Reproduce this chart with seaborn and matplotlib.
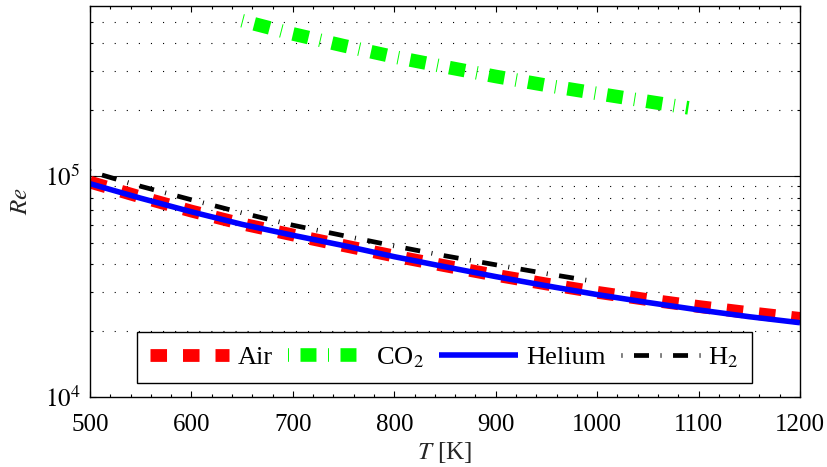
import math
import matplotlib
matplotlib.use("Agg")
import matplotlib.pyplot as plt
import seaborn as sns
from matplotlib.ticker import FixedLocator, FuncFormatter, NullFormatter, MultipleLocator

# ---- data ----
T_air = [500, 550, 600, 650, 700, 750, 800, 850, 900, 950, 1000, 1050, 1100, 1150, 1200]
re_air = [9.40e4, 8.05e4, 6.95e4, 6.08e4, 5.42e4, 4.85e4, 4.35e4, 3.93e4, 3.56e4,
          3.25e4, 2.98e4, 2.76e4, 2.57e4, 2.41e4, 2.27e4]

T_co2 = [650, 700, 750, 800, 850, 900, 950, 1000, 1050, 1090]
re_co2 = [5.06e5, 4.41e5, 3.90e5, 3.47e5, 3.13e5, 2.83e5, 2.58e5, 2.37e5, 2.18e5, 2.04e5]

T_helium = [500, 550, 600, 650, 700, 750, 800, 850, 900, 950, 1000, 1050, 1100, 1150, 1200]
re_helium = [9.25e4, 7.95e4, 6.90e4, 6.05e4, 5.40e4, 4.85e4, 4.32e4, 3.89e4, 3.51e4,
             3.19e4, 2.91e4, 2.68e4, 2.48e4, 2.31e4, 2.17e4]

T_h2 = [500, 550, 600, 650, 700, 750, 800, 850, 900, 950, 1000]
re_h2 = [1.05e5, 9.00e4, 7.82e4, 6.82e4, 6.00e4, 5.38e4, 4.83e4, 4.36e4, 3.97e4, 3.62e4, 3.32e4]

labels = ["Air", "CO$_2$", "Helium", "H$_2$"]
x_ticks = [500, 600, 700, 800, 900, 1000, 1100, 1200]
y_major = [1e4, 1e5]

sns.set_theme(style="ticks")
plt.rcParams.update({
    "font.family": ["Liberation Serif", "DejaVu Serif"],
    "mathtext.fontset": "stix",
    "font.size": 18,
    "lines.scale_dashes": False,
    "axes.edgecolor": "black",
    "axes.linewidth": 1.0,
    "xtick.color": "black",
    "ytick.color": "black",
    "text.color": "black",
})

fig = plt.figure(figsize=(8.27, 4.67), dpi=100)
ax = fig.add_axes([90 / 827, 1 - 397 / 467, 710 / 827, 391 / 467])

sns.lineplot(x=T_air, y=re_air, ax=ax, color="#ff0000", lw=9.2,
             linestyle=(0, (11.9, 11.5)), label=labels[0], sort=False, estimator=None)
sns.lineplot(x=T_co2, y=re_co2, ax=ax, color="#00ff00", lw=9.8,
             linestyle=(0, (0.7, 8.3, 11.5, 8.3)), label=labels[1], sort=False, estimator=None)
sns.lineplot(x=T_helium, y=re_helium, ax=ax, color="#0000ff", lw=4.0,
             solid_capstyle="butt", label=labels[2], sort=False, estimator=None)
sns.lineplot(x=T_h2, y=re_h2, ax=ax, color="black", lw=3.4,
             linestyle=(0, (0.7, 8.3, 10.8, 8.3)), label=labels[3], sort=False, estimator=None)

ax.set_yscale("log")
ax.set_xlim(500, 1200)
ax.set_ylim(1e4, 5.9e5)

ax.xaxis.set_major_locator(FixedLocator(x_ticks))
ax.xaxis.set_minor_locator(MultipleLocator(20))
ax.yaxis.set_major_locator(FixedLocator(y_major))
ax.yaxis.set_major_formatter(FuncFormatter(lambda v, p: r"$10^{%d}$" % round(math.log10(v))))
minor_y = [m * 10 ** e for e in (4, 5) for m in range(2, 10) if m * 10 ** e < 5.9e5]
ax.yaxis.set_minor_locator(FixedLocator(minor_y))
ax.yaxis.set_minor_formatter(NullFormatter())

ax.tick_params(which="both", direction="in", top=True, right=True, width=0.8, labelsize=18)
ax.tick_params(which="major", length=4.5)
ax.tick_params(which="minor", length=2.2)
ax.tick_params(axis="x", which="major", pad=12)
ax.tick_params(axis="y", which="major", pad=7)

ax.grid(False)
ax.yaxis.grid(True, which="minor", color="black", lw=0.8, linestyle=(0, (0.8, 7.9)))
ax.axhline(1e5, color="0.1", lw=0.8, zorder=0.5)

ax.set_xlabel(r"$T$ [K]", fontsize=18, labelpad=3)
ax.set_ylabel(r"$Re$", fontsize=18, labelpad=9)

for s in ax.spines.values():
    s.set_visible(True)
    s.set_color("black")
    s.set_linewidth(1.0)

leg = ax.legend(loc="lower left", bbox_to_anchor=(47 / 710, 14 / 391), ncol=4,
                frameon=True, fancybox=False, edgecolor="black", framealpha=1,
                handlelength=3.0, handletextpad=0.32, columnspacing=0.57,
                borderpad=0.5, borderaxespad=0, fontsize=19)
leg.get_frame().set_linewidth(1.0)

fig.savefig("out.png", dpi=100)
